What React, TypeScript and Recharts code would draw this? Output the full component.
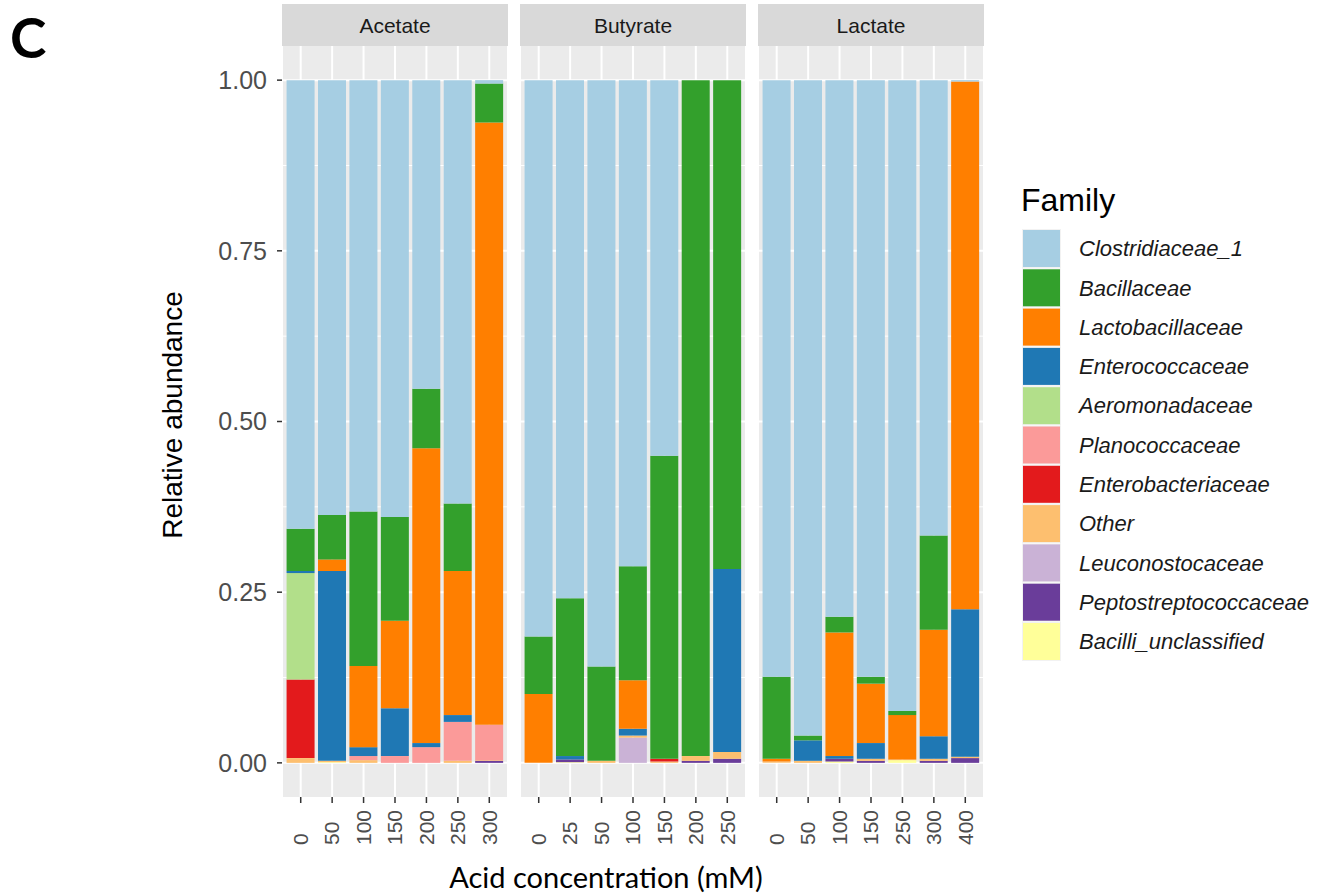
import { BarChart, Bar, XAxis, YAxis, CartesianGrid } from "recharts";

// ─── Data ──────────────────────────────────────────────────
const FAMILIES = [
  "Clostridiaceae_1",
  "Bacillaceae",
  "Lactobacillaceae",
  "Enterococcaceae",
  "Aeromonadaceae",
  "Planococcaceae",
  "Enterobacteriaceae",
  "Other",
  "Leuconostocaceae",
  "Peptostreptococcaceae",
  "Bacilli_unclassified",
];

const FAMILY_COLORS = [
  "#A6CEE3", "#33A02C", "#FF7F00", "#1F78B4", "#B2DF8A", "#FB9A99",
  "#E31A1C", "#FDBF6F", "#CAB2D6", "#6A3D9A", "#FFFF99",
];

const acetateDoses = ["0", "50", "100", "150", "200", "250", "300"];
const butyrateDoses = ["0", "25", "50", "100", "150", "200", "250"];
const lactateDoses = ["0", "50", "100", "150", "250", "300", "400"];

// one row per family (FAMILIES order), one value per dose
const acetateShares = [
  [0.657, 0.637, 0.632, 0.64, 0.452, 0.62, 0.005],
  [0.062, 0.065, 0.226, 0.152, 0.087, 0.099, 0.057],
  [0, 0.017, 0.119, 0.128, 0.432, 0.211, 0.882],
  [0.003, 0.278, 0.013, 0.07, 0.006, 0.01, 0],
  [0.156, 0, 0, 0, 0, 0, 0],
  [0, 0, 0.006, 0.01, 0.023, 0.057, 0.052],
  [0.115, 0, 0, 0, 0, 0, 0],
  [0.007, 0.002, 0.004, 0, 0, 0.003, 0.001],
  [0, 0, 0, 0, 0, 0, 0],
  [0, 0, 0, 0, 0, 0, 0.003],
  [0, 0.001, 0, 0, 0, 0, 0],
];

const butyrateShares = [
  [0.815, 0.759, 0.859, 0.712, 0.55, 0, 0],
  [0.084, 0.231, 0.138, 0.167, 0.444, 0.99, 0.716],
  [0.101, 0, 0, 0.071, 0, 0, 0],
  [0, 0.005, 0, 0.01, 0, 0, 0.268],
  [0, 0, 0, 0, 0, 0, 0],
  [0, 0, 0, 0, 0, 0, 0],
  [0, 0, 0, 0, 0.004, 0, 0],
  [0, 0, 0.003, 0.003, 0.002, 0.007, 0.01],
  [0, 0, 0, 0.037, 0, 0, 0],
  [0, 0.004, 0, 0, 0, 0.003, 0.006],
  [0, 0.001, 0, 0, 0, 0, 0],
];

const lactateShares = [
  [0.874, 0.96, 0.786, 0.874, 0.924, 0.667, 0.002],
  [0.12, 0.007, 0.023, 0.01, 0.006, 0.138, 0],
  [0.004, 0, 0.181, 0.087, 0.065, 0.156, 0.773],
  [0, 0.03, 0.004, 0.023, 0, 0.033, 0.216],
  [0, 0, 0, 0, 0, 0, 0],
  [0, 0, 0, 0, 0, 0, 0],
  [0, 0, 0, 0, 0, 0, 0],
  [0.002, 0.003, 0, 0.003, 0.001, 0.003, 0.002],
  [0, 0, 0, 0, 0, 0, 0],
  [0, 0, 0.004, 0.003, 0, 0.003, 0.007],
  [0, 0, 0.002, 0, 0.004, 0, 0],
];

const MAJOR_TICKS = [0, 0.25, 0.5, 0.75, 1];
const MINOR_TICKS = [0.125, 0.375, 0.625, 0.875];

// ─── Layout ────────────────────────────────────────────────
const PANEL_W = 226;
const PANEL_TOP = 46;
const PANEL_H = 751;
const X_AXIS_H = 60;
const Y_AXIS_W = 76;
const FONT = "'Liberation Sans', Arial, sans-serif";

function DoseTick(props: any) {
  const { x, y, payload } = props;
  const ax = x;
  const ay = y + 40;
  return (
    <text
      x={ax}
      y={ay}
      dy="0.35em"
      transform={`rotate(-90 ${ax} ${ay})`}
      textAnchor="start"
      fontSize={21}
      fill="#4D4D4D"
      fontFamily={FONT}
    >
      {payload.value}
    </text>
  );
}

function FacetPanel({ title, doses, shares, left, showYAxis }: {
  title: string;
  doses: string[];
  shares: number[][];
  left: number;
  showYAxis: boolean;
}) {
  const rows = doses.map((dose, i) => {
    const row: Record<string, any> = { dose };
    FAMILIES.forEach((f, k) => { row[f] = shares[k][i]; });
    return row;
  });
  const yW = showYAxis ? Y_AXIS_W : 0;

  return (
    <>
      <div
        style={{
          position: "absolute", left, top: 4, width: PANEL_W, height: 42,
          background: "#D9D9D9", color: "#1A1A1A", fontFamily: FONT, fontSize: 21,
          textAlign: "center", lineHeight: "44px",
        }}
      >
        {title}
      </div>
      <div style={{ position: "absolute", left: left - yW, top: PANEL_TOP }}>
        <BarChart
          width={PANEL_W + yW}
          height={PANEL_H + X_AXIS_H}
          data={rows}
          margin={{ top: 0, right: 0, bottom: 0, left: 0 }}
          barCategoryGap="5%"
        >
          <CartesianGrid
            fill="#EBEBEB"
            stroke="#FFFFFF"
            strokeWidth={1}
            vertical={false}
            horizontalValues={MINOR_TICKS}
          />
          <CartesianGrid stroke="#FFFFFF" strokeWidth={2} horizontalValues={MAJOR_TICKS} />
          <XAxis
            dataKey="dose"
            padding={{ left: 3, right: 3 }}
            interval={0}
            height={X_AXIS_H}
            axisLine={false}
            tickLine={{ stroke: "#333333", strokeWidth: 1.5 }}
            tickSize={6}
            tick={<DoseTick />}
          />
          <YAxis
            type="number"
            domain={[-0.05, 1.05]}
            allowDataOverflow
            ticks={MAJOR_TICKS}
            hide={!showYAxis}
            width={yW}
            axisLine={false}
            tickLine={{ stroke: "#333333", strokeWidth: 1.5 }}
            tickSize={5}
            tickMargin={10}
            tick={{ fontSize: 25, fill: "#4D4D4D", fontFamily: FONT }}
            tickFormatter={(v: number) => v.toFixed(2)}
          />
          {FAMILIES.slice().reverse().map((f) => (
            <Bar
              key={f}
              dataKey={f}
              stackId="abund"
              fill={FAMILY_COLORS[FAMILIES.indexOf(f)]}
              isAnimationActive={false}
            />
          ))}
        </BarChart>
      </div>
    </>
  );
}

export default function App() {
  return (
    <div
      style={{
        position: "absolute", left: 0, top: 0, width: 1328, height: 894,
        background: "#FFFFFF", fontFamily: FONT, overflow: "hidden",
      }}
    >
      <FacetPanel title="Acetate" doses={acetateDoses} shares={acetateShares} left={282} showYAxis />
      <FacetPanel title="Butyrate" doses={butyrateDoses} shares={butyrateShares} left={520} showYAxis={false} />
      <FacetPanel title="Lactate" doses={lactateDoses} shares={lactateShares} left={758} showYAxis={false} />

      <svg
        width={1328}
        height={894}
        style={{ position: "absolute", left: 0, top: 0, pointerEvents: "none" }}
      >
        <text x={10} y={58} fontFamily="Lato, sans-serif" fontWeight={700} fontSize={55} fill="#000">
          C
        </text>
        <text
          x={182}
          y={415}
          transform="rotate(-90 182 415)"
          textAnchor="middle"
          fontSize={28}
          fill="#000"
          fontFamily={FONT}
        >
          Relative abundance
        </text>
        <text x={606} y={888} textAnchor="middle" fontSize={29} fill="#000" fontFamily="Lato, sans-serif">
          Acid concentration (mM)
        </text>

        <text x={1021} y={211} fontSize={32} fill="#000" fontFamily={FONT}>
          Family
        </text>
        {FAMILIES.map((f, i) => {
          const top = 229 + i * 39.3;
          return (
            <g key={f}>
              <rect x={1022} y={top} width={39} height={39} fill="#F2F2F2" />
              <rect x={1023} y={top + 1} width={37} height={37} fill={FAMILY_COLORS[i]} />
              <text
                x={1079}
                y={top + 19.5}
                dy="0.35em"
                fontSize={22}
                fontStyle="italic"
                fill="#1A1A1A"
                fontFamily={FONT}
              >
                {f}
              </text>
            </g>
          );
        })}
      </svg>
    </div>
  );
}
